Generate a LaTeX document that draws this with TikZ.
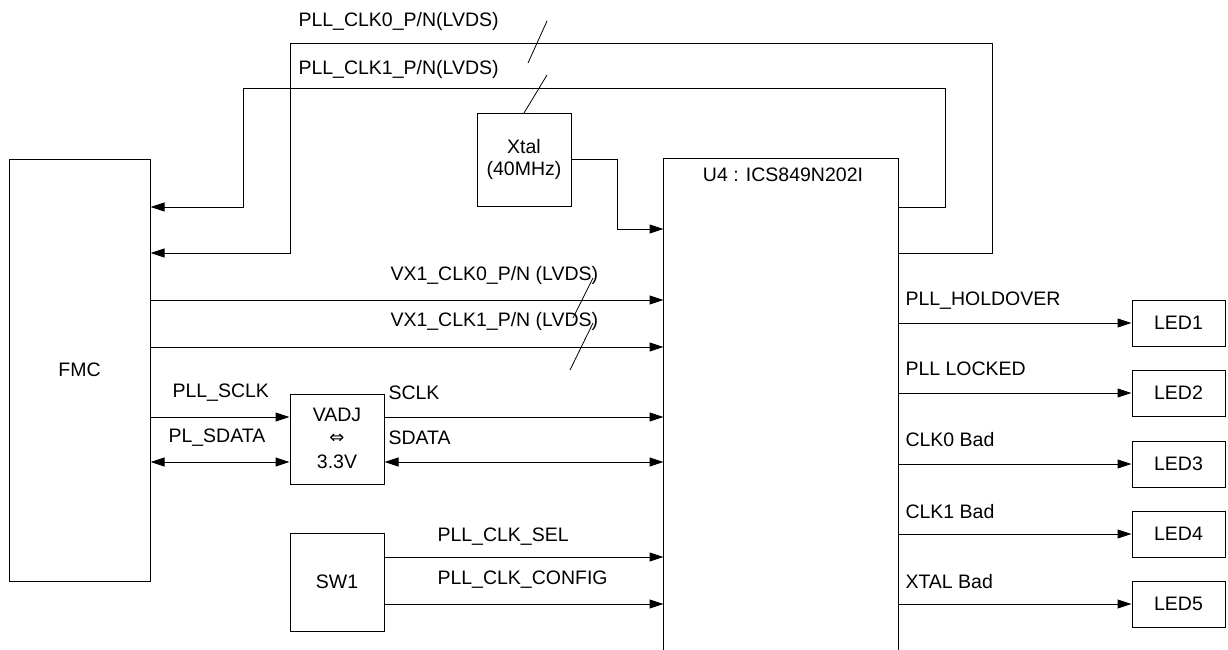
\documentclass[tikz,border=0pt]{standalone}
\usepackage{fontspec}
\setmainfont{Liberation Sans}
\newfontfamily\symfont{DejaVu Sans}
\usetikzlibrary{arrows.meta}
\begin{document}
\begin{tikzpicture}[x=1pt,y=-1pt,
  line width=1pt,
  font=\fontsize{19.5}{22}\selectfont,
  box/.style={draw, inner sep=0pt, align=center},
  lbl/.style={inner sep=0pt, anchor=west},
  arr/.style={-{Triangle[length=14pt,width=9pt]}},
  darr/.style={{Triangle[length=14pt,width=9pt]}-{Triangle[length=14pt,width=9pt]}},
  slash/.style={line width=0.8pt}]
\useasboundingbox (0,0) rectangle (1228,649);
% boxes
\node[box, minimum width=141pt, minimum height=422pt] (fmc) at (79.5,370) {FMC};
\node[box, minimum width=94pt, minimum height=93pt] (xtal) at (524,159.5) {Xtal\\(40MHz)};
\node[inner sep=0pt, minimum width=234pt, minimum height=490pt] (u4) at (781,404) {};
\draw (u4.south west) -- (u4.north west) -- (u4.north east) -- (u4.south east);
\node[inner sep=0pt] (u4t) at (783,175) {U4 : ICS849N202I};
\node[box, minimum width=94pt, minimum height=90pt] (vadj) at (337,439) {};
\node[inner sep=0pt] (vadj1) at (337,415) {VADJ};
\node[inner sep=0pt] (vadj2) at (337,439) {\symfont\fontsize{18}{20}\selectfont ⇔};
\node[inner sep=0pt] (vadj3) at (337,462) {3.3V};
\node[box, minimum width=94pt, minimum height=98pt] (sw1) at (337,582) {SW1};
\foreach \i/\y in {1/323,2/393,3/464,4/534,5/604}{
  \node[box, minimum width=93pt, minimum height=46pt] (led\i) at (1178.5,\y) {LED\i};
}
% level coordinates
\coordinate (y43) at (0,43);
\coordinate (y88) at (0,88);
\coordinate (y207) at (0,207);
\coordinate (y253) at (0,253);
\coordinate (y229) at (0,229);
\coordinate (y300) at (0,300);
\coordinate (y347) at (0,347);
\coordinate (y417) at (0,417);
\coordinate (y462) at (0,462);
\coordinate (y557) at (0,557);
\coordinate (y604) at (0,604);
% PLL clock feedback paths
\draw[arr] (u4.east |- y253) -- (992,253) -- (992,43) -- (290,43) -- (290,253) -- (fmc.east |- y253);
\draw[arr] (u4.east |- y207) -- (945,207) -- (945,88) -- (243,88) -- (243,207) -- (fmc.east |- y207);
\node[lbl] (l1) at (298,21) {PLL\_CLK0\_P/N(LVDS)};
\node[lbl] (l2) at (298,69) {PLL\_CLK1\_P/N(LVDS)};
\coordinate (s1a) at (547,21); \coordinate (s1b) at (528,63);
\coordinate (s2a) at (547,75);
\draw[slash] (s1a) -- (s1b);
\draw[slash] (s2a) -- (xtal.north |- 0,113) ;
% xtal to U4
\draw[arr] (xtal.east |- 0,159) -- (617,159) -- (617,229) -- (u4.west |- y229);
% VX1 clocks
\draw[arr] (fmc.east |- y300) -- (u4.west |- y300);
\draw[arr] (fmc.east |- y347) -- (u4.west |- y347);
\node[lbl] (l3) at (390,275) {VX1\_CLK0\_P/N (LVDS)};
\node[lbl] (l4) at (390,321) {VX1\_CLK1\_P/N (LVDS)};
\coordinate (s3a) at (593,278); \coordinate (s3b) at (573,318);
\coordinate (s4a) at (593,323); \coordinate (s4b) at (570,370);
\draw[slash] (s3a) -- (s3b);
\draw[slash] (s4a) -- (s4b);
% serial interface
\draw[arr] (fmc.east |- y417) -- (vadj.west |- y417);
\draw[darr] (fmc.east |- y462) -- (vadj.west |- y462);
\draw[arr] (vadj.east |- y417) -- (u4.west |- y417);
\draw[darr] (vadj.east |- y462) -- (u4.west |- y462);
\node[lbl] (l5) at (172,393) {PLL\_SCLK};
\node[lbl] (l6) at (168,438) {PL\_SDATA};
\node[lbl] (l7) at (388,393) {SCLK};
\node[lbl] (l8) at (388,438) {SDATA};
% switch
\draw[arr] (sw1.east |- y557) -- (u4.west |- y557);
\draw[arr] (sw1.east |- y604) -- (u4.west |- y604);
\node[lbl] (l9) at (437,537) {PLL\_CLK\_SEL};
\node[lbl] (l10) at (437,580) {PLL\_CLK\_CONFIG};
% LEDs
\foreach \i in {1,...,5}{
  \draw[arr] (u4.east |- led\i.west) -- (led\i.west);
}
\node[lbl] (r1) at (905,301) {PLL\_HOLDOVER};
\node[lbl] (r2) at (905,369) {PLL LOCKED};
\node[lbl] (r3) at (905,440) {CLK0 Bad};
\node[lbl] (r4) at (905,512) {CLK1 Bad};
\node[lbl] (r5) at (905,582) {XTAL Bad};
\end{tikzpicture}
\end{document}
